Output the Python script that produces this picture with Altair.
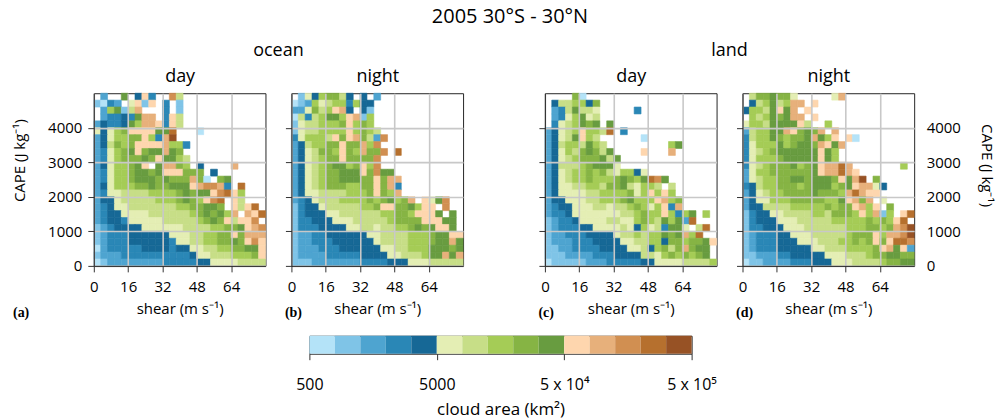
import altair as alt
import pandas as pd

# ---------------------------------------------------------------- text
MAIN_TITLE = "2005 30°S - 30°N"
SURFACE_TITLES = ["ocean", "land"]
TIME_TITLES = ["day", "night", "day", "night"]
PANEL_LABELS = ["(a)", "(b)", "(c)", "(d)"]
X_TITLE = "shear (m s⁻¹)"
Y_TITLE = "CAPE (J kg⁻¹)"
CBAR_TITLE = "cloud area (km²)"

# ---------------------------------------------------------------- bins / ticks
SHEAR_BIN = 3.2      # m s-1 per cell
CAPE_BIN = 200       # J kg-1 per cell
N_BINS = 25
SHEAR_TICKS = [0, 16, 32, 48, 64]
CAPE_TICKS = [0, 1000, 2000, 3000, 4000]

# colour classes: 5 per decade from 500 to 5e5 km2
AREA_MIN = 500
LEVELS_PER_DECADE = 5
LEVEL_CODES = "abcdefghijklmno"
LEVEL_COLORS = [
    "#b4e3f8", "#7fc4e7", "#4ea4d0", "#2a87b6", "#166896",
    "#e4eeb4", "#c7de87", "#a5cc56", "#86b444", "#689c40",
    "#fed6ae", "#e7b07b", "#d18f51", "#b6702e", "#975225",
]
CBAR_TICKS = [500, 5000, 50000, 500000]
CBAR_TICK_LABELS = ["500", "5000", "5 x 10⁴", "5 x 10⁵"]

# ---------------------------------------------------------------- cells
# one string per CAPE row, top row (4800-5000) first; one character per shear
# cell (0-3.2, 3.2-6.4, ...); letter = colour class, "." = empty
OCEAN_DAY = [
    ".c..j.ekd..mg",
    "badc.fkbk.d.b",
    ".chjbgl...d.b",
    ".cddedjll.dkg",
    "ceddejhllkdkg",
    "fefhikkkkjjn...a",
    "cefhhiikhdlo",
    "cegihikkkklhhd",
    "cdfhijkijjlji",
    "cdfhiiijikjjhg",
    "cefhhijk.jllih.e....l",
    "cdfhhijjijkkkiii.e",
    "cdfhhijjjijiiilia.ij",
    "cefhhhiijiijjjklmmld.n",
    "cdffgggghhhhijijjkmnkh",
    "ceefggggghhhijihkmn.kg",
    "cdeffggggggghhiijji.kgkn",
    "cdeeffffgggggghijijhl.lkn",
    "cdeedfffffggggghijikgkkm",
    "bcdeeeeffffffgggghhiijklm",
    "bcdddeeeeeefffgghhiikilll",
    "bcdddeeeeeedffgghhiijikmk",
    "acdddddeeeedeeffgghhiijjk",
    "bcccddddddddddeffggghhhik",
    "abccccccccdddddeeffffgggg",
]
OCEAN_NIGHT = [
    ".bfehiige.e.c",
    "abchfghhdhee",
    "ccfighkle.eb",
    "agdghjjhklbh",
    "bfgghhhikhih",
    "bfgghhhhkhihg",
    "dfhhhgkikligcm",
    "ceghhiikiilhm",
    "cefgiihkihliim.n",
    "cefghiikiiiim",
    "cefghijjhikhm",
    "cefghiijjjkimjj",
    "cefghiijjjiikill",
    "cefghiiihhiikild",
    "ceffgggghhhikihl",
    "cdefggghhhhihijhil.kfjm",
    "bdeefggggghhikkiijhkk.m",
    "bdeeeffgggggghhiihkkkj.j",
    "bddeeefffggggghiiiikkkjj",
    "bdddeeeeffggfgghhijijkkj",
    "bccddeeeeeeffgggghhhijjkk",
    "bccdddeeeeeefgggghhhijjlj",
    "bcccdddeeeeeeffgghhhjjjij",
    "bccccdddddeeeeffggghjjljl",
    "bbbcccccccddddeeefffggggg",
]
LAND_DAY = [
    "....ia",
    ".egghhei",
    ".cdgjggf.....d",
    ".cdfhjfg",
    ".dfghjij.j",
    "cefghkhhgn.d",
    "cefgjkhg......a",
    "ceghhgjhg.........hj",
    "cefhgijigj....k...l",
    "cefghiiijgj",
    "ceggghijjjf",
    "cefghhihigfhhef",
    "cefghhihhhijihjnmj",
    "ceffgghhgiijgfhhg.g",
    "ceffffgghhhhifhkhkh",
    "ceefffgghhhijhhhklhi",
    "cdeefffggfgghihfhkdl",
    "cddefffffffgghihhkhdhj.h",
    "bcddeffffggffhihgjhjcn",
    "bcdddeeffffgfehfgdjjf.gn",
    "bccdddeeeefgghghhjijlhn",
    "bcccdddeeeeffgghheiihiijk",
    "bbccddddeeeeffgehigilijj",
    "bbbccccdddeeeeggfhihihij",
    "abbbbbcccdddddeeffffggggh",
]
LAND_NIGHT = [
    ".giijiif.....fl",
    ".eghjghll.k",
    "ehhgjkjl.k",
    ".hghjijll.k",
    "fhhgjjjjkg..h",
    "cghhjjlkijil.l",
    "dghhjihiijljhk.ka",
    "dfhhhjhijjilkjl",
    "dfghijjjjjjkjh",
    "dfhhhijjjjjkjh",
    "dfghiiijhijkllnl.......h",
    "cfhhiiiiiijkllnlk",
    "cfghhiijjijjjikjlo.i",
    "deghhiiihijjjhijkllfe",
    "cefghhiiiijiiihlnlkk",
    "ceffhhhiiiiihhjklil.f",
    "ceegggghhhhhihiiklhk.i",
    "bdeeffgggghhgiiihkhlbh.kn",
    "bdeeefffggggghhhhhihihkn",
    "bddeeefffgggggghhhiihilmo",
    "bcdddeefffggggghiiikhllmo",
    "bcdddeeefffggghhihikiknnm",
    "bcdddeeeeeffggghhhhikljkc",
    "bbcccddeeeeefffggghiijjii",
    "abbccccdddeeefffgggghiijj",
]
PANELS = [OCEAN_DAY, OCEAN_NIGHT, LAND_DAY, LAND_NIGHT]

# class edges of the colour bar
EDGES = [AREA_MIN * 10 ** (k / LEVELS_PER_DECADE) for k in range(len(LEVEL_CODES) + 1)]

FONT = "Open Sans"
PW, PH = 172, 173
PANEL_GAP = 26


def grid_frame(rows):
    recs = []
    for r, row in enumerate(rows):
        row = row.ljust(N_BINS, ".")[:N_BINS]
        cape = (N_BINS - 1 - r) * CAPE_BIN
        for c, ch in enumerate(row):
            if ch == ".":
                continue
            k = LEVEL_CODES.index(ch)
            recs.append({
                "shear": c * SHEAR_BIN, "shear2": (c + 1) * SHEAR_BIN,
                "cape": cape, "cape2": cape + CAPE_BIN,
                "area": AREA_MIN * 10 ** ((k + 0.5) / LEVELS_PER_DECADE),
            })
    return pd.DataFrame(recs)


x_scale = alt.Scale(domain=[0, N_BINS * SHEAR_BIN], nice=False, zero=False)
y_scale = alt.Scale(domain=[0, N_BINS * CAPE_BIN], nice=False, zero=False)
area_scale = alt.Scale(type="threshold", domain=EDGES[1:-1], range=LEVEL_COLORS)


def panel(i):
    df = grid_frame(PANELS[i])
    first = i == 0
    x_axis = alt.Axis(values=SHEAR_TICKS, title=X_TITLE, grid=True, zindex=1,
                      tickSize=6, labelPadding=8, labelFlush=False,
                      titleY=43, titleBaseline="middle")
    if first:
        y_axis = alt.Axis(values=CAPE_TICKS, format="d", title=Y_TITLE, grid=True,
                          zindex=1, tickSize=6, labelPadding=6, titleX=-74, titleY=67,
                          titleBaseline="middle", titleAlign="center")
    else:
        y_axis = alt.Axis(values=CAPE_TICKS, title=None, grid=True, zindex=1,
                          tickSize=6, labels=False)
    base = alt.Chart(df).mark_rect(strokeWidth=0.6).encode(
        x=alt.X("shear:Q", scale=x_scale, axis=x_axis),
        x2="shear2:Q",
        y=alt.Y("cape:Q", scale=y_scale, axis=y_axis),
        y2="cape2:Q",
        color=alt.Color("area:Q", scale=area_scale, legend=None),
        stroke=alt.Stroke("area:Q", scale=area_scale, legend=None),
    )
    # invisible layer that carries the day/night header (top axis title)
    top_enc = {
        "x": alt.X("shear:Q", scale=x_scale,
                   axis=alt.Axis(orient="top", title=TIME_TITLES[i], ticks=False,
                                 labels=False, domain=False, grid=False,
                                 titleFontSize=18, titlePadding=8)),
    }
    if i == 3:
        top_enc["y"] = alt.Y("cape:Q", scale=y_scale,
                             axis=alt.Axis(orient="right", values=CAPE_TICKS, format="d",
                                           ticks=False, domain=False, grid=False,
                                           labelPadding=12, title=Y_TITLE, titleAngle=90,
                                           titleX=72, titleY=72, titleBaseline="middle",
                                           titleAlign="center"))
    header = alt.Chart(df).mark_point(opacity=0).encode(**top_enc)
    res = {"x": "independent"}
    if i == 3:
        res["y"] = "independent"
    label = alt.TitleParams(PANEL_LABELS[i], orient="bottom", anchor="start",
                            frame="bounds", font="Liberation Serif",
                            fontWeight="bold", fontSize=14, offset=-11, color="#000")
    return alt.layer(base, header).resolve_axis(**res).properties(
        width=PW, height=PH, title=label)


groups = []
for g in range(2):
    groups.append(
        alt.hconcat(panel(2 * g), panel(2 * g + 1), spacing=PANEL_GAP, bounds="flush").properties(
            title=alt.TitleParams(SURFACE_TITLES[g], anchor="middle", frame="group",
                                  fontSize=18, offset=7, dx=(2 * PW + PANEL_GAP) / 2)))
top = alt.hconcat(*groups, spacing=74)

# colour bar
cbar_df = pd.DataFrame({"lo": EDGES[:-1], "hi": EDGES[1:], "level": list(LEVEL_CODES)})
label_expr = "[{}][indexof([{}], datum.value)]".format(
    ",".join("'" + s + "'" for s in CBAR_TICK_LABELS),
    ",".join(str(v) for v in CBAR_TICKS))
cbar = alt.Chart(cbar_df).mark_rect(strokeWidth=0).encode(
    x=alt.X("lo:Q", scale=alt.Scale(type="log", domain=[EDGES[0], EDGES[-1]], nice=False),
            axis=alt.Axis(values=CBAR_TICKS, labelExpr=label_expr, tickSize=6, grid=False,
                          domain=False, labelFlush=False, labelFontSize=16,
                          labelPadding=17, title=CBAR_TITLE, titleFontSize=17,
                          titleY=56, titleBaseline="middle")),
    x2="hi:Q",
    color=alt.Color("level:N", scale=alt.Scale(domain=list(LEVEL_CODES), range=LEVEL_COLORS),
                    legend=None),
).properties(width=383, height=18)

spacer = alt.Chart(pd.DataFrame({"v": [0]})).mark_point(opacity=0).encode(
    x=alt.X("v:Q", axis=None), y=alt.Y("v:Q", axis=None)
).properties(width=200, height=18, view=alt.ViewBackground(stroke="transparent"))

cbar_row = alt.hconcat(spacer, cbar, spacing=0)

chart = alt.vconcat(top, cbar_row, spacing=14).properties(
    title=alt.TitleParams(MAIN_TITLE, anchor="middle", frame="group", fontSize=20,
                          offset=15, dx=417),
    padding={"left": 12, "top": 6, "right": 4, "bottom": 0},
).configure(font=FONT).configure_view(
    stroke="#262626", strokeWidth=1
).configure_axis(
    labelFont=FONT, labelFontSize=15, labelColor="#000",
    titleFont=FONT, titleFontSize=15, titleFontWeight="normal", titleColor="#000",
    tickColor="#333", domainColor="#262626", gridColor="#c8c8c8", gridWidth=1.6,
).configure_title(font=FONT, fontWeight="normal", color="#000")

chart.save("out.html", embed_options={"renderer": "svg", "actions": False})
